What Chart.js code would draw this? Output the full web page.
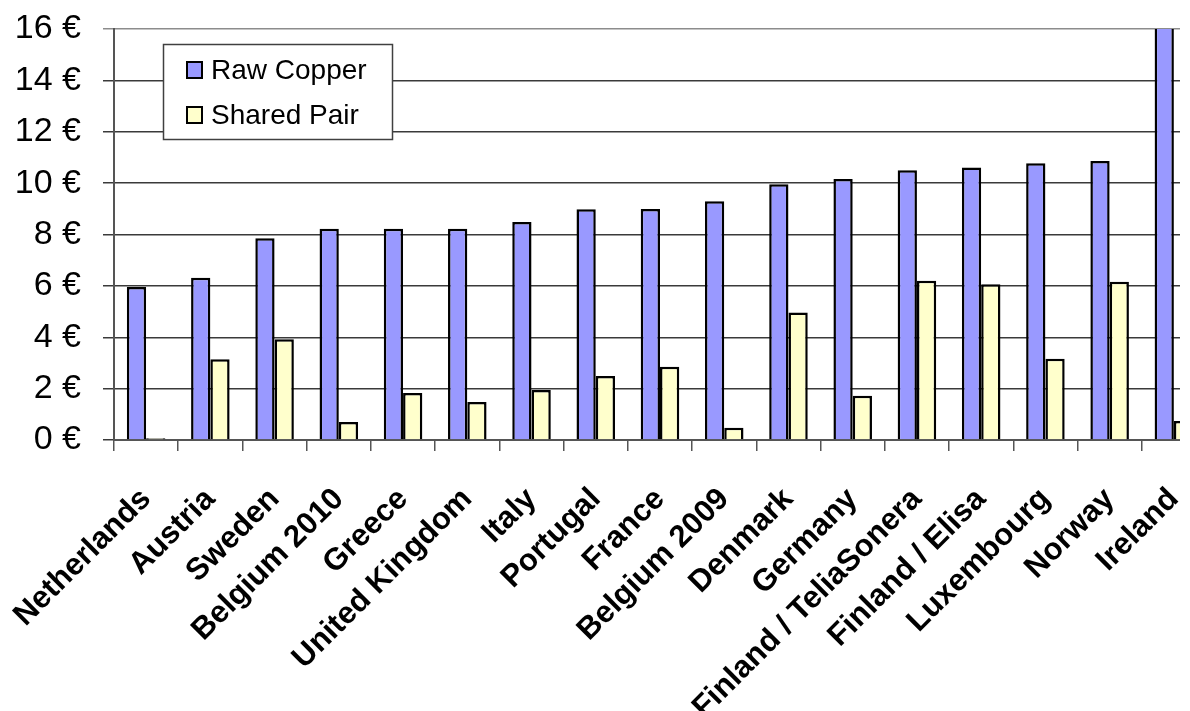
<!DOCTYPE html>
<html>
<head>
<meta charset="utf-8">
<title>Monthly unbundled local loop prices</title>
<script src="https://cdn.jsdelivr.net/npm/chart.js@4/dist/chart.umd.min.js"></script>
<style>
  html, body { margin: 0; padding: 0; background: #ffffff; overflow: hidden; }
  #wrap { width: 1180px; height: 711px; overflow: hidden; position: relative; }
  canvas { display: block; }
</style>
</head>
<body>
<div id="wrap"><canvas id="c" width="1206" height="711"></canvas></div>
<script>
// Countries / operators, sorted by raw copper price
const categories = [
  'Netherlands', 'Austria', 'Sweden', 'Belgium 2010', 'Greece', 'United Kingdom',
  'Italy', 'Portugal', 'France', 'Belgium 2009', 'Denmark', 'Germany',
  'Finland / TeliaSonera', 'Finland / Elisa', 'Luxembourg', 'Norway', 'Ireland'
];

// Monthly price in euro
const rawCopper = [5.96, 6.32, 7.85, 8.22, 8.22, 8.22, 8.49, 8.98, 8.99, 9.29, 9.96, 10.16, 10.5, 10.61, 10.77, 10.86, 17.5];
const sharedPair = [0.07, 3.14, 3.92, 0.7, 1.83, 1.48, 1.95, 2.49, 2.85, 0.48, 4.96, 1.72, 6.2, 6.06, 3.16, 6.16, 0.74];

// Value axis ticks
const yTicks = [0, 2, 4, 6, 8, 10, 12, 14, 16];

const seriesNames = ['Raw Copper', 'Shared Pair'];
const seriesColors = ['#9999ff', '#ffffcc'];

// Legend box drawn inside the plot area, top left
const insideLegend = {
  id: 'insideLegend',
  afterDraw(chart) {
    const ctx = chart.ctx;
    const area = chart.chartArea;
    const x = area.left + 49, y = area.top + 15, w = 229, h = 95;
    ctx.save();
    ctx.fillStyle = '#ffffff';
    ctx.fillRect(x, y, w, h);
    ctx.strokeStyle = '#404040';
    ctx.lineWidth = 1.5;
    ctx.strokeRect(x + 0.5, y + 0.5, w, h);
    ctx.font = '28px "Liberation Sans", Arial, sans-serif';
    ctx.textBaseline = 'middle';
    chart.data.datasets.forEach((ds, i) => {
      const cy = y + 26 + i * 45;
      ctx.fillStyle = ds.backgroundColor;
      ctx.fillRect(x + 24, cy - 8, 15, 16);
      ctx.strokeStyle = '#000000';
      ctx.lineWidth = 2;
      ctx.strokeRect(x + 24, cy - 8, 15, 16);
      ctx.fillStyle = '#000000';
      ctx.fillText(ds.label, x + 48, cy + 1);
    });
    ctx.restore();
  }
};

new Chart(document.getElementById('c'), {
  type: 'bar',
  data: {
    labels: categories,
    datasets: [
      { label: seriesNames[0], data: rawCopper, backgroundColor: seriesColors[0], borderColor: '#000000', borderWidth: 2.5 },
      { label: seriesNames[1], data: sharedPair, backgroundColor: seriesColors[1], borderColor: '#000000', borderWidth: 2.5 }
    ]
  },
  options: {
    responsive: false,
    animation: false,
    devicePixelRatio: 1,
    layout: { padding: { top: 29, left: 0, right: 0, bottom: 0 } },
    datasets: { bar: { categoryPercentage: 0.6, barPercentage: 1.0 } },
    plugins: {
      legend: { display: false },
      tooltip: { enabled: false }
    },
    scales: {
      x: {
        offset: true,
        grid: { offset: true, drawOnChartArea: false, drawTicks: true, tickLength: 11, color: '#555555', lineWidth: 1.5 },
        border: { display: true, color: '#555555', width: 2 },
        ticks: {
          minRotation: 45, maxRotation: 45, autoSkip: false, padding: 30,
          color: '#000000',
          font: { family: '"Liberation Sans", Arial, sans-serif', size: 31, weight: 'bold' }
        },
        afterFit(scale) {
          scale.height = 271;
          scale.paddingLeft = 0;
          scale.paddingRight = 0;
        }
      },
      y: {
        min: 0, max: 16,
        afterBuildTicks(scale) { scale.ticks = yTicks.map(v => ({ value: v })); },
        grid: {
          drawTicks: true, tickLength: 11, lineWidth: 1.5,
          color: ctx => (ctx.tick && ctx.tick.value === 16 ? '#8c8c8c' : '#3a3a3a')
        },
        border: { display: true, color: '#555555', width: 2 },
        ticks: {
          padding: 22, color: '#000000',
          font: { family: '"Liberation Sans", Arial, sans-serif', size: 34 },
          callback: v => v + ' €'
        },
        afterFit(scale) {
          scale.width = 114;
          scale.paddingTop = 0;
          scale.paddingBottom = 0;
        }
      }
    }
  },
  plugins: [insideLegend]
});
</script>
</body>
</html>
